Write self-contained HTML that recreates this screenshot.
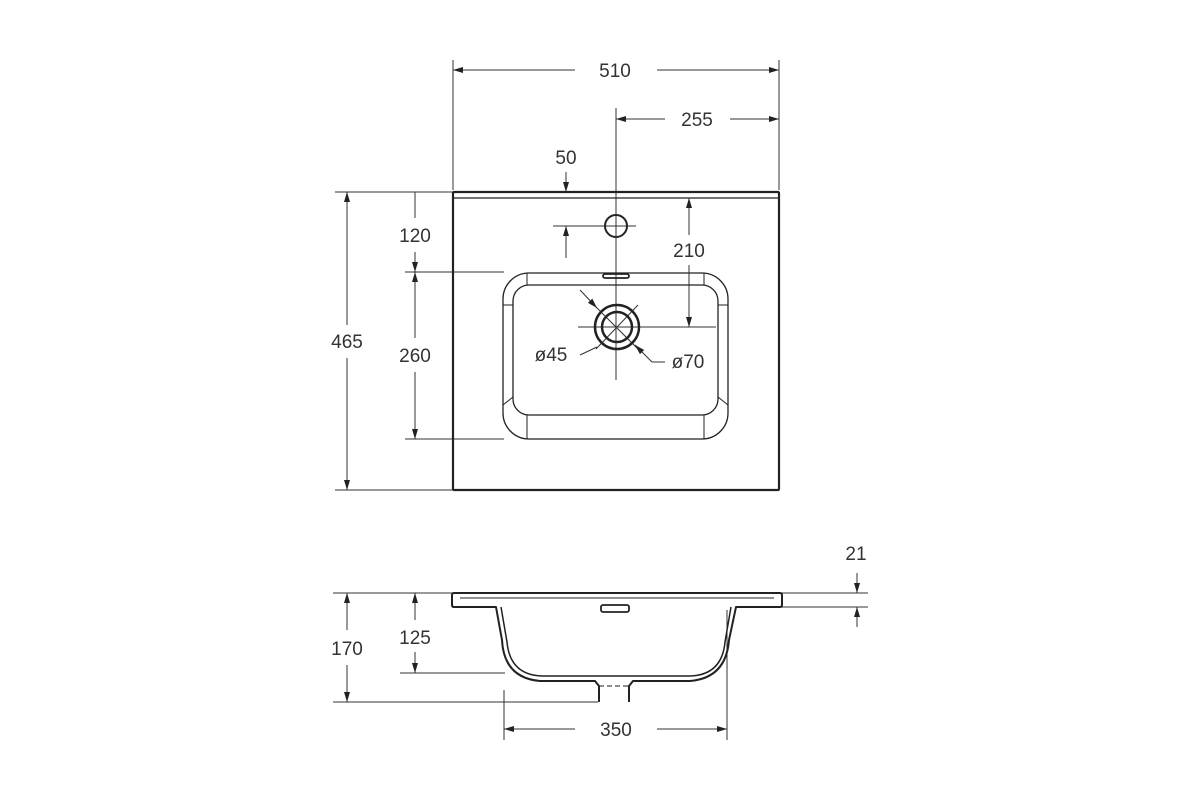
<!DOCTYPE html>
<html><head><meta charset="utf-8"><style>
html,body{margin:0;padding:0;background:#fff;}
svg{display:block}
text{font-family:"Liberation Sans",sans-serif;font-size:19px;fill:#333;text-anchor:middle;}
</style></head><body>
<svg width="1200" height="800" viewBox="0 0 1200 800" xmlns="http://www.w3.org/2000/svg">
<defs>
<marker id="a" viewBox="0 0 10 6" refX="10" refY="3" markerWidth="10" markerHeight="6" orient="auto-start-reverse" markerUnits="userSpaceOnUse"><path d="M0,0 L10,3 L0,6 z" fill="#222"/></marker>
</defs>
<g stroke="#333" stroke-width="1" fill="none">
<line x1="453" y1="60" x2="453" y2="190"/>
<line x1="779" y1="60" x2="779" y2="190"/>
<line x1="616" y1="108" x2="616" y2="380"/>
<line x1="335" y1="192" x2="453" y2="192"/>
<line x1="405" y1="272" x2="504" y2="272"/>
<line x1="405" y1="439" x2="504" y2="439"/>
<line x1="335" y1="490" x2="453" y2="490"/>
<line x1="553" y1="226" x2="636" y2="226"/>
<line x1="578" y1="327" x2="716" y2="327"/>
<line x1="596" y1="307" x2="638" y2="349"/>
<line x1="638" y1="305" x2="596" y2="349"/>
<line x1="453" y1="70" x2="575" y2="70" marker-start="url(#a)"/>
<line x1="657" y1="70" x2="779" y2="70" marker-end="url(#a)"/>
<line x1="616" y1="119" x2="665" y2="119" marker-start="url(#a)"/>
<line x1="730" y1="119" x2="779" y2="119" marker-end="url(#a)"/>
<line x1="566" y1="172" x2="566" y2="192" marker-end="url(#a)"/>
<line x1="566" y1="258" x2="566" y2="226" marker-end="url(#a)"/>
<line x1="347" y1="192" x2="347" y2="325" marker-start="url(#a)"/>
<line x1="347" y1="358" x2="347" y2="490" marker-end="url(#a)"/>
<line x1="415" y1="192" x2="415" y2="218"/>
<line x1="415" y1="252" x2="415" y2="272" marker-end="url(#a)"/>
<line x1="415" y1="272" x2="415" y2="338" marker-start="url(#a)"/>
<line x1="415" y1="372" x2="415" y2="439" marker-end="url(#a)"/>
<line x1="689" y1="198" x2="689" y2="235" marker-start="url(#a)"/>
<line x1="689" y1="265" x2="689" y2="327" marker-end="url(#a)"/>
<line x1="580" y1="290" x2="597" y2="308" marker-end="url(#a)"/>
<line x1="580" y1="355" x2="597" y2="347" />
<line x1="665" y1="362" x2="652" y2="362"/>
<line x1="652" y1="362" x2="635" y2="345" marker-end="url(#a)"/>
<line x1="333" y1="593" x2="452" y2="593"/>
<line x1="400" y1="673" x2="505" y2="673"/>
<line x1="333" y1="702" x2="598" y2="702"/>
<line x1="781" y1="593" x2="868" y2="593"/>
<line x1="781" y1="607" x2="868" y2="607"/>
<line x1="504" y1="690" x2="504" y2="740"/>
<line x1="727" y1="610" x2="727" y2="740"/>
<line x1="347" y1="593" x2="347" y2="630" marker-start="url(#a)"/>
<line x1="347" y1="665" x2="347" y2="702" marker-end="url(#a)"/>
<line x1="415" y1="593" x2="415" y2="620" marker-start="url(#a)"/>
<line x1="415" y1="652" x2="415" y2="673" marker-end="url(#a)"/>
<line x1="857" y1="573" x2="857" y2="593" marker-end="url(#a)"/>
<line x1="857" y1="627" x2="857" y2="607" marker-end="url(#a)"/>
<line x1="504" y1="729" x2="575" y2="729" marker-start="url(#a)"/>
<line x1="657" y1="729" x2="727" y2="729" marker-end="url(#a)"/>
</g>
<g stroke="#222" fill="none">
<rect x="453" y="192" width="326" height="298" stroke-width="2.2" rx="1"/>
<line x1="454" y1="198" x2="778" y2="198" stroke-width="1.2"/>
<circle cx="616" cy="226" r="11" stroke-width="2"/>
<rect x="503" y="273" width="225" height="166" rx="26" stroke-width="1.3"/>
<rect x="513" y="285" width="205" height="130" rx="16" stroke-width="1.3"/>
<line x1="527" y1="273" x2="527" y2="285" stroke-width="1"/>
<line x1="704" y1="273" x2="704" y2="285" stroke-width="1"/>
<line x1="527" y1="415" x2="527" y2="439" stroke-width="1"/>
<line x1="704" y1="415" x2="704" y2="439" stroke-width="1"/>
<line x1="503" y1="305" x2="513" y2="305" stroke-width="1"/>
<line x1="718" y1="305" x2="728" y2="305" stroke-width="1"/>
<line x1="503" y1="405" x2="513" y2="397" stroke-width="1"/>
<line x1="728" y1="405" x2="718" y2="397" stroke-width="1"/>
<rect x="603" y="274" width="26" height="4" rx="2" stroke-width="1.8"/>
<circle cx="617" cy="327" r="22" stroke-width="2.5"/>
<circle cx="617" cy="327" r="15" stroke-width="2.5"/>
</g>
<g stroke="#222" stroke-width="2" fill="none" stroke-linejoin="round">
<path d="M599,702 L599,686 L595,681 L540,681 Q504,678 502,640 L496,607 L454,607 Q452,607 452,605 L452,595 Q452,593 454,593 L780,593 Q782,593 782,595 L782,605 Q782,607 780,607 L736,607 L729,640 Q726,678 690,681 L633,681 L629,686 L629,702"/>
<path d="M460,598 L774,598" stroke-width="1"/>
<path d="M501,607 L507,642 Q510,675 542,676 L690,676 Q722,675 725,642 L731,607" stroke-width="1.5"/>
<line x1="599" y1="686" x2="629" y2="686" stroke-width="1" stroke-dasharray="5,3"/>
<rect x="601" y="605" width="28" height="7" rx="2" stroke-width="1.8"/>
</g>
<text x="615" y="77">510</text>
<text x="697" y="126">255</text>
<text x="566" y="164">50</text>
<text x="415" y="242">120</text>
<text x="689" y="257">210</text>
<text x="347" y="348">465</text>
<text x="415" y="362">260</text>
<text x="551" y="361">ø45</text>
<text x="688" y="368">ø70</text>
<text x="856" y="560">21</text>
<text x="415" y="644">125</text>
<text x="347" y="655">170</text>
<text x="616" y="736">350</text>
</svg>
</body></html>
